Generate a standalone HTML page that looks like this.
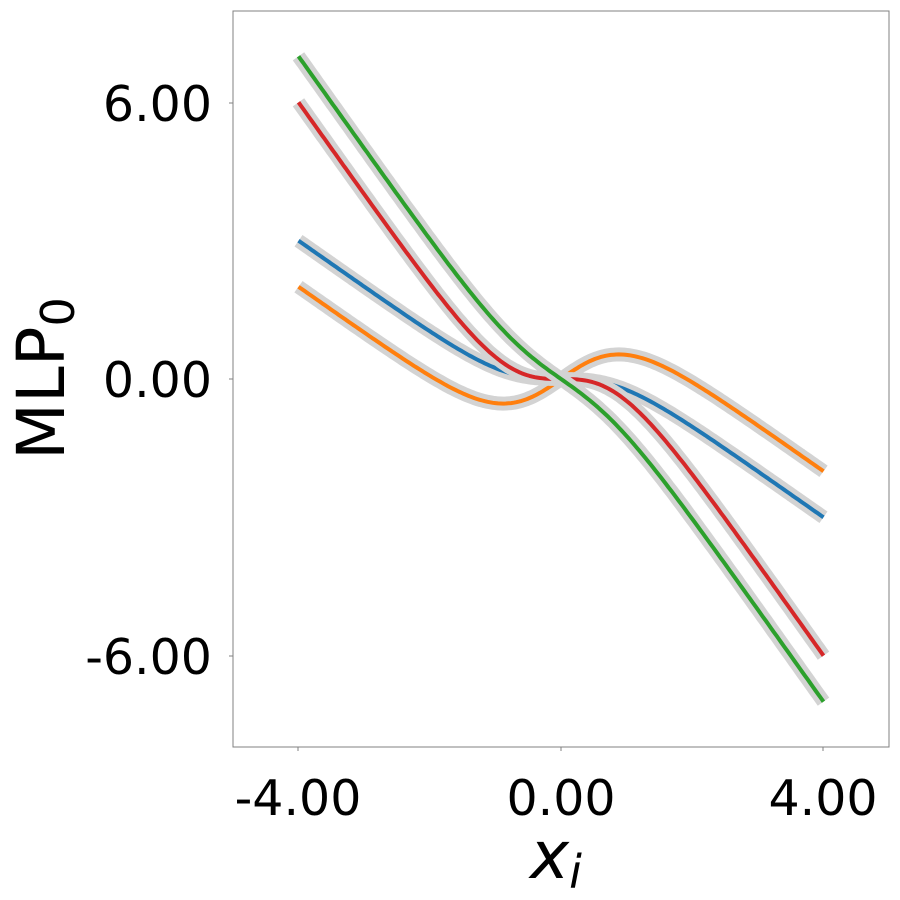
<!DOCTYPE html>
<html><head><meta charset="utf-8"><style>
html,body{margin:0;padding:0;background:#fff;}
svg{display:block;font-family:"DejaVu Sans","Liberation Sans",sans-serif;}
</style></head><body>
<svg id="s" width="900" height="900" viewBox="0 0 900 900">
<rect x="233" y="11" width="656" height="736" fill="none" stroke="#808080" stroke-width="1"/>
<g stroke="#808080" stroke-width="1">
<line x1="229" y1="103" x2="233" y2="103"/><line x1="229" y1="379" x2="233" y2="379"/><line x1="229" y1="656" x2="233" y2="656"/>
<line x1="298" y1="747" x2="298" y2="751"/><line x1="561" y1="747" x2="561" y2="751"/><line x1="823" y1="747" x2="823" y2="751"/>
</g>
<g font-size="49" fill="#000" text-anchor="end">
<text x="212" y="121">6.00</text><text x="212" y="397">0.00</text><text x="212" y="674">-6.00</text>
</g>
<g font-size="49" fill="#000" text-anchor="middle">
<text x="298" y="815">-4.00</text><text x="561" y="815">0.00</text><text x="823" y="815">4.00</text>
</g>
<text x="530" y="878" font-size="66" font-style="italic">x<tspan font-size="46" dy="10">i</tspan></text>
<text transform="translate(64,460) rotate(-90)" font-size="66">MLP<tspan font-size="46" dy="10">0</tspan></text>
<g id="curves"></g>
</svg>
<script>
function th(v){return Math.tanh(v);}
var F={
blue:function(x){return -x+th(x);},
orange:function(x){return -x+2*th(x);},
red:function(x){return -2*x+2*th(x);},
green:function(x){return -2*x+th(x);}
};
var col={blue:"#1f77b4",orange:"#ff7f0e",red:"#d62728",green:"#2ca02c"};
function px(x){return 561+x*65.625;}function py(y){return 379-y*46.1;}
var g=document.getElementById("curves"),h="";
["blue","orange","red","green"].forEach(function(k){var d="";
for(var i=0;i<=200;i++){var x=-4+8*i/200;d+=(i?"L":"M")+px(x).toFixed(1)+","+py(F[k](x)).toFixed(1);}
h+='<path d="'+d+'" fill="none" stroke="#d3d3d3" stroke-width="14" stroke-linecap="butt" stroke-linejoin="round"/>';
h+='<path d="'+d+'" fill="none" stroke="'+col[k]+'" stroke-width="4" stroke-linecap="butt" stroke-linejoin="round"/>';});
g.innerHTML=h;
</script>
</body></html>
